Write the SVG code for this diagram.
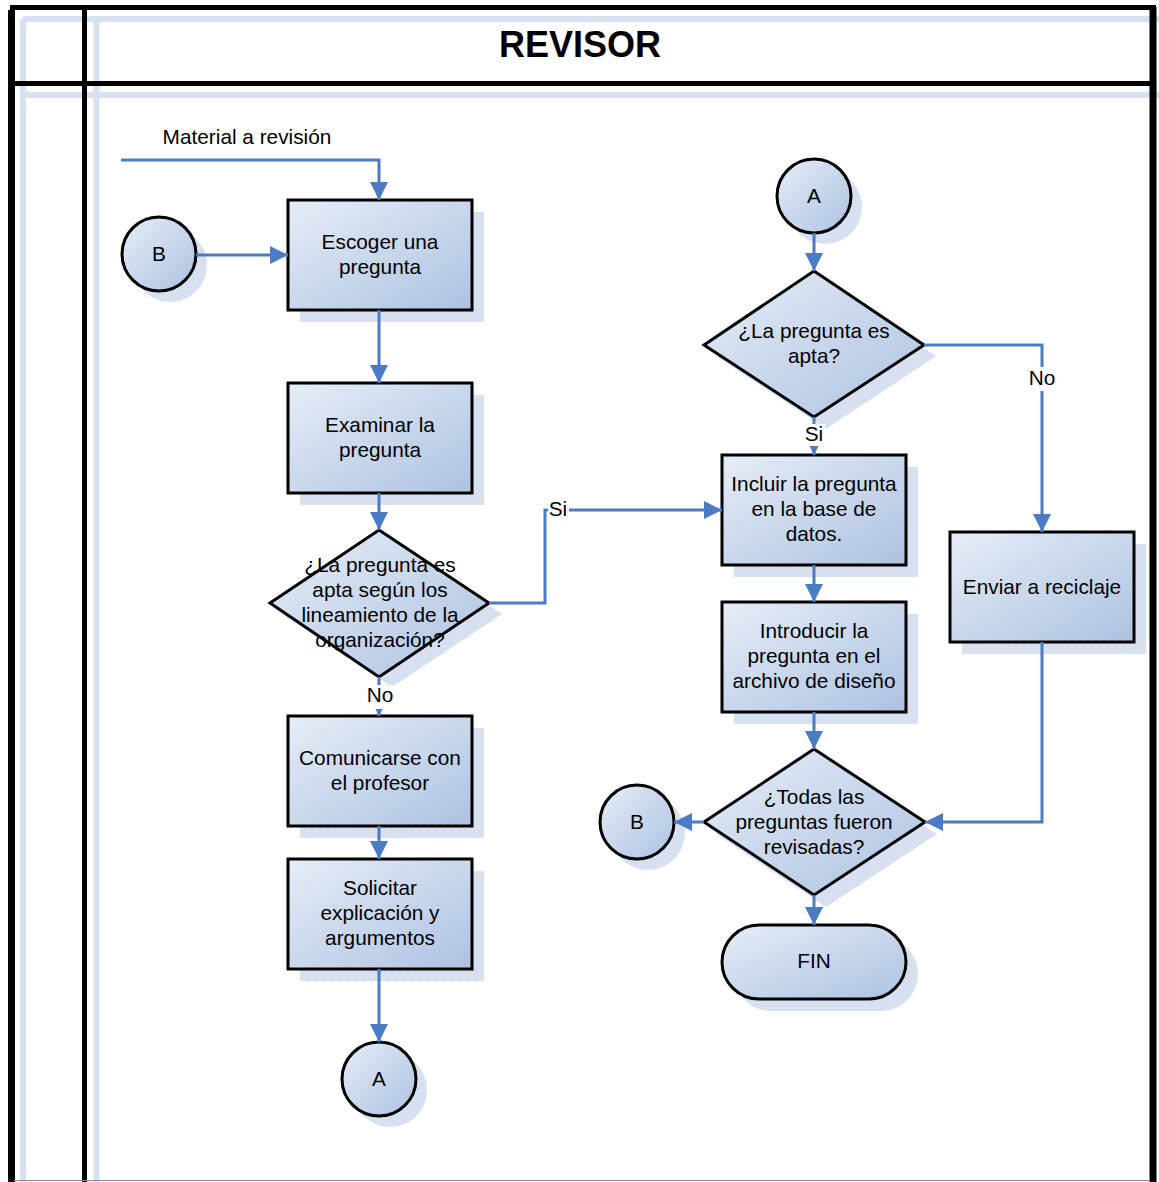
<svg xmlns="http://www.w3.org/2000/svg" width="1159" height="1182" viewBox="0 0 1159 1182">
  <defs>
    <linearGradient id="fillGrad" x1="0" y1="0" x2="1" y2="1">
      <stop offset="0" stop-color="#e6edf7"/>
      <stop offset="1" stop-color="#adc2e1"/>
    </linearGradient>
    <pattern id="dither" width="2" height="2" patternUnits="userSpaceOnUse">
      <rect width="2" height="2" fill="#e2e9f5"/>
      <rect width="1" height="1" fill="#ccd9ed"/>
      <rect x="1" y="1" width="1" height="1" fill="#ccd9ed"/>
    </pattern>
    <marker id="arrow" markerWidth="18" markerHeight="18" refX="18" refY="9" orient="auto" markerUnits="userSpaceOnUse">
      <path d="M0,0 L18,9 L0,18 Z" fill="#4a7bc4"/>
    </marker>
    <style>
      .shape { fill: url(#fillGrad); stroke: #000; stroke-width: 3; }
      .shadow { fill: url(#dither); stroke: none; }
      .lbl { font-family: "Liberation Sans", Arial, sans-serif; font-size: 20.8px; fill: #000; text-anchor: middle; }
      .title { font-family: "Liberation Sans", Arial, sans-serif; font-size: 36px; font-weight: bold; fill: #000; text-anchor: middle; }
      .conn { fill: none; stroke: #4a7bc4; stroke-width: 3; }
      .frame { stroke: #000; fill: none; }
      .frameShadow { stroke: url(#dither); fill: none; stroke-width: 6; }
      .tag { fill: #fff; }
    </style>
  </defs>

  <!-- swimlane frame -->
  <g id="lane">
    <rect x="0" y="0" width="1159" height="1182" fill="#fff"/>
    <!-- soft offset lines behind the frame -->
    <line class="frameShadow" x1="23" y1="19" x2="1159" y2="19"/>
    <line class="frameShadow" x1="23" y1="95" x2="1159" y2="95"/>
    <line class="frameShadow" x1="23" y1="19" x2="23" y2="1182"/>
    <line class="frameShadow" x1="96.5" y1="19" x2="96.5" y2="1182"/>
    <!-- black frame -->
    <line class="frame" x1="10" y1="7.5" x2="1156" y2="7.5" stroke-width="5"/>
    <line class="frame" x1="11.5" y1="10" x2="11.5" y2="1182" stroke-width="7"/>
    <line class="frame" x1="1153" y1="7" x2="1153" y2="1182" stroke-width="7"/>
    <line class="frame" x1="84.5" y1="8" x2="84.5" y2="1182" stroke-width="5"/>
    <line class="frame" x1="14" y1="83.5" x2="1152" y2="83.5" stroke-width="5"/>
    <line x1="14" y1="1180.5" x2="1150" y2="1180.5" stroke="#888" stroke-width="1"/>
    <text class="title" x="580" y="57">REVISOR</text>
  </g>

  <!-- nodes -->
  <g id="n-escoger">
    <rect class="shadow" x="300" y="212" width="184" height="110"/>
    <rect class="shape" x="288" y="200" width="184" height="110"/>
    <text class="lbl" x="380" y="249">Escoger una</text>
    <text class="lbl" x="380" y="274">pregunta</text>
  </g>

  <g id="n-examinar">
    <rect class="shadow" x="300" y="395" width="184" height="110"/>
    <rect class="shape" x="288" y="383" width="184" height="110"/>
    <text class="lbl" x="380" y="432">Examinar la</text>
    <text class="lbl" x="380" y="457">pregunta</text>
  </g>

  <g id="n-apta-lineamiento">
    <polygon class="shadow" points="392,541 502,614 392,687 282,614"/>
    <polygon class="shape" points="379,530 489,603 379,677 270,603"/>
    <text class="lbl" x="380" y="572">¿La pregunta es</text>
    <text class="lbl" x="380" y="597">apta según los</text>
    <text class="lbl" x="380" y="622">lineamiento de la</text>
    <text class="lbl" x="380" y="647">organización?</text>
  </g>

  <g id="n-comunicarse">
    <rect class="shadow" x="300" y="728" width="184" height="110"/>
    <rect class="shape" x="288" y="716" width="184" height="110"/>
    <text class="lbl" x="380" y="765">Comunicarse con</text>
    <text class="lbl" x="380" y="790">el profesor</text>
  </g>

  <g id="n-solicitar">
    <rect class="shadow" x="300" y="871" width="184" height="110"/>
    <rect class="shape" x="288" y="859" width="184" height="110"/>
    <text class="lbl" x="380" y="895">Solicitar</text>
    <text class="lbl" x="380" y="920">explicación y</text>
    <text class="lbl" x="380" y="945">argumentos</text>
  </g>

  <g id="n-a-out">
    <circle class="shadow" cx="390" cy="1090" r="37"/>
    <circle class="shape" cx="379" cy="1079" r="37"/>
    <text class="lbl" x="379" y="1086">A</text>
  </g>

  <g id="n-b-in">
    <circle class="shadow" cx="170" cy="265" r="37"/>
    <circle class="shape" cx="159" cy="254" r="37"/>
    <text class="lbl" x="159" y="261">B</text>
  </g>

  <g id="n-a-in">
    <circle class="shadow" cx="825" cy="207" r="37"/>
    <circle class="shape" cx="814" cy="196" r="37"/>
    <text class="lbl" x="814" y="203">A</text>
  </g>

  <g id="n-apta">
    <polygon class="shadow" points="826,283 936,356 826,429 716,356"/>
    <polygon class="shape" points="814,271 924,345 814,417 704,345"/>
    <text class="lbl" x="814" y="338">¿La pregunta es</text>
    <text class="lbl" x="814" y="363">apta?</text>
  </g>

  <g id="n-incluir">
    <rect class="shadow" x="734" y="467" width="184" height="110"/>
    <rect class="shape" x="722" y="455" width="184" height="110"/>
    <text class="lbl" x="814" y="491">Incluir la pregunta</text>
    <text class="lbl" x="814" y="516">en la base de</text>
    <text class="lbl" x="814" y="541">datos.</text>
  </g>

  <g id="n-introducir">
    <rect class="shadow" x="734" y="614" width="184" height="110"/>
    <rect class="shape" x="722" y="602" width="184" height="110"/>
    <text class="lbl" x="814" y="638">Introducir la</text>
    <text class="lbl" x="814" y="663">pregunta en el</text>
    <text class="lbl" x="814" y="688">archivo de diseño</text>
  </g>

  <g id="n-todas">
    <polygon class="shadow" points="826,761 937,834 826,907 716,834"/>
    <polygon class="shape" points="814,749 925,822 814,895 704,822"/>
    <text class="lbl" x="814" y="804">¿Todas las</text>
    <text class="lbl" x="814" y="829">preguntas fueron</text>
    <text class="lbl" x="814" y="854">revisadas?</text>
  </g>

  <g id="n-b-out">
    <circle class="shadow" cx="648" cy="833" r="37"/>
    <circle class="shape" cx="637" cy="822" r="37"/>
    <text class="lbl" x="637" y="829">B</text>
  </g>

  <g id="n-fin">
    <rect class="shadow" x="734" y="937" width="184" height="74" rx="37"/>
    <rect class="shape" x="722" y="925" width="184" height="74" rx="37"/>
    <text class="lbl" x="814" y="968">FIN</text>
  </g>

  <g id="n-reciclaje">
    <rect class="shadow" x="962" y="544" width="184" height="110"/>
    <rect class="shape" x="950" y="532" width="184" height="110"/>
    <text class="lbl" x="1042" y="594">Enviar a reciclaje</text>
  </g>

  <!-- connectors -->
  <g id="connectors">
    <polyline class="conn" points="121,160 379,160 379,200" marker-end="url(#arrow)"/>
    <line class="conn" x1="196" y1="255" x2="288" y2="255" marker-end="url(#arrow)"/>
    <line class="conn" x1="379" y1="310" x2="379" y2="383" marker-end="url(#arrow)"/>
    <line class="conn" x1="379" y1="493" x2="379" y2="530" marker-end="url(#arrow)"/>
    <polyline class="conn" points="489,603 545,603 545,510 722,510" marker-end="url(#arrow)"/>
    <line class="conn" x1="379" y1="677" x2="379" y2="716" marker-end="url(#arrow)"/>
    <line class="conn" x1="379" y1="826" x2="379" y2="859" marker-end="url(#arrow)"/>
    <line class="conn" x1="379" y1="969" x2="379" y2="1042" marker-end="url(#arrow)"/>
    <line class="conn" x1="814" y1="233" x2="814" y2="271" marker-end="url(#arrow)"/>
    <line class="conn" x1="814" y1="417" x2="814" y2="455" marker-end="url(#arrow)"/>
    <polyline class="conn" points="924,345 1042,345 1042,532" marker-end="url(#arrow)"/>
    <line class="conn" x1="814" y1="565" x2="814" y2="602" marker-end="url(#arrow)"/>
    <line class="conn" x1="814" y1="712" x2="814" y2="749" marker-end="url(#arrow)"/>
    <line class="conn" x1="704" y1="822" x2="674" y2="822" marker-end="url(#arrow)"/>
    <polyline class="conn" points="1042,642 1042,822 925,822" marker-end="url(#arrow)"/>
    <line class="conn" x1="814" y1="895" x2="814" y2="925" marker-end="url(#arrow)"/>

    <!-- connector labels -->
    <text class="lbl" x="247" y="144">Material a revisión</text>
    <rect class="tag" x="548" y="499" width="21" height="22"/>
    <text class="lbl" x="558" y="516">Si</text>
    <rect class="tag" x="365" y="685" width="29" height="24"/>
    <text class="lbl" x="380" y="702">No</text>
    <rect class="tag" x="803" y="424" width="22" height="22"/>
    <text class="lbl" x="814" y="441">Si</text>
    <rect class="tag" x="1027" y="367" width="30" height="24"/>
    <text class="lbl" x="1042" y="385">No</text>
  </g>
</svg>
